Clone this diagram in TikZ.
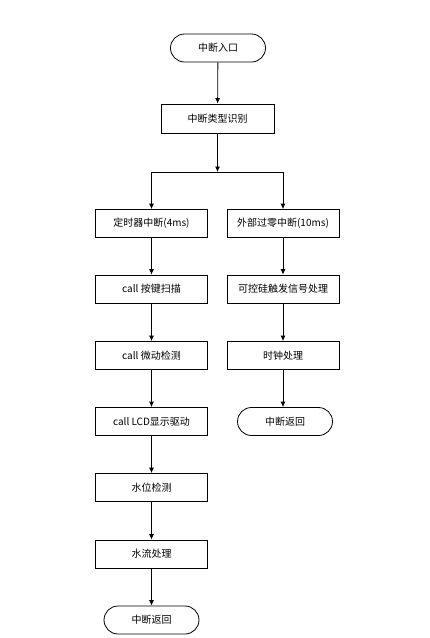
\documentclass[tikz,border=0pt]{standalone}
\usepackage{fontspec}
\setmainfont{Noto Sans CJK SC}
\usetikzlibrary{arrows.meta}
\begin{document}
\begin{tikzpicture}[x=1pt,y=-1pt,
  every node/.style={font=\fontsize{10pt}{12pt}\selectfont, inner sep=0pt},
  procbox/.style={draw=black, line width=0.8pt, minimum width=112pt, minimum height=28pt},
  termbox/.style={draw=black, line width=0.8pt, minimum width=95pt, minimum height=28pt, rounded corners=14pt},
  flow/.style={draw=black, line width=0.8pt, -{Latex[length=5.5pt,width=5pt]}},
  plain/.style={draw=black, line width=0.8pt}]
\useasboundingbox (0,0) rectangle (430,638);
\node[termbox] (start) at (218,48) {中断入口};
\node[procbox, minimum width=113pt, minimum height=29pt] (ident) at (217.5,118.5) {中断类型识别};
\coordinate (j) at (217.5,172);
\coordinate (jl) at (151.5,172);
\coordinate (jr) at (283,172);
\node[procbox] (l1) at (151.5,223.5) {定时器中断(4ms)};
\node[procbox] (l2) at (151.5,289) {call 按键扫描};
\node[procbox] (l3) at (151.5,355.5) {call 微动检测};
\node[procbox] (l4) at (151.5,421.5) {call LCD显示驱动};
\node[procbox] (l5) at (151.5,487.5) {水位检测};
\node[procbox] (l6) at (151.5,554) {水流处理};
\node[termbox] (l7) at (151.5,620) {中断返回};
\node[procbox] (r1) at (283,223.5) {外部过零中断(10ms)};
\node[procbox] (r2) at (283,289) {可控硅触发信号处理};
\node[procbox] (r3) at (283,355.5) {时钟处理};
\node[termbox] (r4) at (285,421.5) {中断返回};
\draw[flow] (start) -- (ident);
\draw[flow] (ident) -- (j);
\draw[plain] (jl) -- (jr);
\draw[flow] (jl) -- (l1);
\draw[flow] (jr) -- (r1);
\draw[flow] (l1) -- (l2);
\draw[flow] (l2) -- (l3);
\draw[flow] (l3) -- (l4);
\draw[flow] (l4) -- (l5);
\draw[flow] (l5) -- (l6);
\draw[flow] (l6) -- (l7);
\draw[flow] (r1) -- (r2);
\draw[flow] (r2) -- (r3);
\draw[flow] (r3.south) -- (r3.south |- r4.north);
\end{tikzpicture}
\end{document}
